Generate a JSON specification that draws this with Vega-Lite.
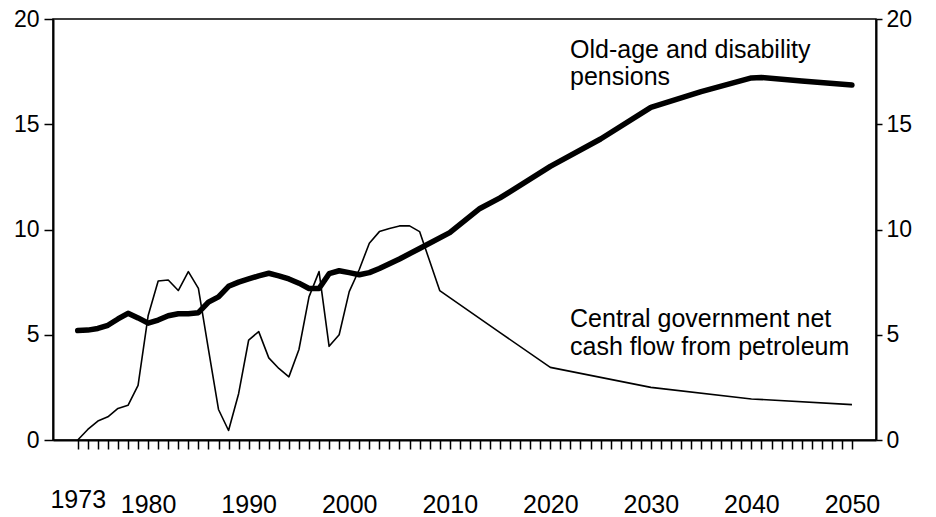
{
  "$schema": "https://vega.github.io/schema/vega-lite/v6.json",
  "width": 823,
  "height": 421,
  "autosize": {"type": "none"},
  "padding": {"left": 53, "top": 19, "right": 60, "bottom": 77},
  "background": "white",
  "config": {
    "view": {"stroke": "black", "strokeWidth": 1.5},
    "font": "Liberation Sans",
    "axis": {"domain": true, "ticks": true, "domainColor": "black", "domainWidth": 2, "tickColor": "black", "labelColor": "black", "labelFont": "Liberation Sans", "grid": false, "title": null}
  },
  "datasets": {
    "series": [
      {"series": "pensions", "year": 1973, "value": 5.2},
      {"series": "pensions", "year": 1974, "value": 5.22},
      {"series": "pensions", "year": 1975, "value": 5.3},
      {"series": "pensions", "year": 1976, "value": 5.45},
      {"series": "pensions", "year": 1977, "value": 5.75},
      {"series": "pensions", "year": 1978, "value": 6.02},
      {"series": "pensions", "year": 1979, "value": 5.8},
      {"series": "pensions", "year": 1980, "value": 5.55},
      {"series": "pensions", "year": 1981, "value": 5.7},
      {"series": "pensions", "year": 1982, "value": 5.9},
      {"series": "pensions", "year": 1983, "value": 6.0},
      {"series": "pensions", "year": 1984, "value": 6.0},
      {"series": "pensions", "year": 1985, "value": 6.05},
      {"series": "pensions", "year": 1986, "value": 6.55},
      {"series": "pensions", "year": 1987, "value": 6.8},
      {"series": "pensions", "year": 1988, "value": 7.3},
      {"series": "pensions", "year": 1989, "value": 7.5},
      {"series": "pensions", "year": 1990, "value": 7.65},
      {"series": "pensions", "year": 1991, "value": 7.8},
      {"series": "pensions", "year": 1992, "value": 7.92},
      {"series": "pensions", "year": 1993, "value": 7.8},
      {"series": "pensions", "year": 1994, "value": 7.65},
      {"series": "pensions", "year": 1995, "value": 7.45},
      {"series": "pensions", "year": 1996, "value": 7.2},
      {"series": "pensions", "year": 1997, "value": 7.2},
      {"series": "pensions", "year": 1998, "value": 7.9},
      {"series": "pensions", "year": 1999, "value": 8.04},
      {"series": "pensions", "year": 2000, "value": 7.95},
      {"series": "pensions", "year": 2001, "value": 7.85},
      {"series": "pensions", "year": 2002, "value": 7.95},
      {"series": "pensions", "year": 2003, "value": 8.15},
      {"series": "pensions", "year": 2005, "value": 8.6},
      {"series": "pensions", "year": 2007, "value": 9.1},
      {"series": "pensions", "year": 2010, "value": 9.85},
      {"series": "pensions", "year": 2013, "value": 11.0},
      {"series": "pensions", "year": 2015, "value": 11.5},
      {"series": "pensions", "year": 2020, "value": 13.0},
      {"series": "pensions", "year": 2025, "value": 14.3},
      {"series": "pensions", "year": 2030, "value": 15.8},
      {"series": "pensions", "year": 2035, "value": 16.55},
      {"series": "pensions", "year": 2040, "value": 17.2},
      {"series": "pensions", "year": 2041, "value": 17.22},
      {"series": "pensions", "year": 2045, "value": 17.05},
      {"series": "pensions", "year": 2050, "value": 16.86},
      {"series": "petroleum", "year": 1973, "value": 0.0},
      {"series": "petroleum", "year": 1974, "value": 0.5},
      {"series": "petroleum", "year": 1975, "value": 0.9},
      {"series": "petroleum", "year": 1976, "value": 1.1},
      {"series": "petroleum", "year": 1977, "value": 1.5},
      {"series": "petroleum", "year": 1978, "value": 1.65},
      {"series": "petroleum", "year": 1979, "value": 2.6},
      {"series": "petroleum", "year": 1980, "value": 5.9},
      {"series": "petroleum", "year": 1981, "value": 7.55},
      {"series": "petroleum", "year": 1982, "value": 7.6},
      {"series": "petroleum", "year": 1983, "value": 7.1},
      {"series": "petroleum", "year": 1984, "value": 8.0},
      {"series": "petroleum", "year": 1985, "value": 7.2},
      {"series": "petroleum", "year": 1986, "value": 4.3},
      {"series": "petroleum", "year": 1987, "value": 1.45},
      {"series": "petroleum", "year": 1988, "value": 0.45},
      {"series": "petroleum", "year": 1989, "value": 2.2},
      {"series": "petroleum", "year": 1990, "value": 4.75},
      {"series": "petroleum", "year": 1991, "value": 5.15},
      {"series": "petroleum", "year": 1992, "value": 3.9},
      {"series": "petroleum", "year": 1993, "value": 3.4},
      {"series": "petroleum", "year": 1994, "value": 3.0},
      {"series": "petroleum", "year": 1995, "value": 4.3},
      {"series": "petroleum", "year": 1996, "value": 6.8},
      {"series": "petroleum", "year": 1997, "value": 8.0},
      {"series": "petroleum", "year": 1998, "value": 4.45},
      {"series": "petroleum", "year": 1999, "value": 5.0},
      {"series": "petroleum", "year": 2000, "value": 7.05},
      {"series": "petroleum", "year": 2001, "value": 8.1},
      {"series": "petroleum", "year": 2002, "value": 9.35},
      {"series": "petroleum", "year": 2003, "value": 9.9},
      {"series": "petroleum", "year": 2004, "value": 10.05},
      {"series": "petroleum", "year": 2005, "value": 10.17},
      {"series": "petroleum", "year": 2006, "value": 10.17},
      {"series": "petroleum", "year": 2007, "value": 9.9},
      {"series": "petroleum", "year": 2008, "value": 8.5},
      {"series": "petroleum", "year": 2009, "value": 7.1},
      {"series": "petroleum", "year": 2015, "value": 5.1},
      {"series": "petroleum", "year": 2020, "value": 3.45},
      {"series": "petroleum", "year": 2030, "value": 2.5},
      {"series": "petroleum", "year": 2040, "value": 1.95},
      {"series": "petroleum", "year": 2050, "value": 1.68}
    ],
    "notes": [
      {"year": 2021.96, "value": 18.15, "label": "Old-age and disability"},
      {"year": 2021.96, "value": 16.87, "label": "pensions"},
      {"year": 2021.96, "value": 5.37, "label": "Central government net"},
      {"year": 2021.96, "value": 4.04, "label": "cash flow from petroleum"}
    ]
  },
  "encoding": {
    "x": {
      "field": "year", "type": "quantitative",
      "scale": {"domain": [1970.54, 2052.39], "nice": false, "zero": false},
      "axis": {
        "orient": "bottom",
        "values": [1973,1974,1975,1976,1977,1978,1979,1980,1981,1982,1983,1984,1985,1986,1987,1988,1989,1990,1991,1992,1993,1994,1995,1996,1997,1998,1999,2000,2001,2002,2003,2004,2005,2006,2007,2008,2009,2010,2011,2012,2013,2014,2015,2016,2017,2018,2019,2020,2021,2022,2023,2024,2025,2026,2027,2028,2029,2030,2031,2032,2033,2034,2035,2036,2037,2038,2039,2040,2041,2042,2043,2044,2045,2046,2047,2048,2049,2050],
        "format": "d",
        "labelExpr": "indexof([1973,1980,1990,2000,2010,2020,2030,2040,2050], datum.value) >= 0 ? datum.label : ''",
        "labelOverlap": false,
        "labelFontSize": 25,
        "labelBaseline": "alphabetic",
        "labelPadding": {"condition": {"test": "datum.value == 1973", "value": 58.5}, "value": 63.5},
        "ticks": true,
        "tickSize": 9,
        "tickWidth": 1.5,
        "tickColor": "black",
        "tickOpacity": 1,
        "labelFlush": false
      }
    }
  },
  "layer": [
    {
      "data": {"name": "series"},
      "transform": [{"filter": "datum.series === 'petroleum'"}],
      "mark": {"type": "line", "color": "black", "strokeWidth": 1.6, "strokeJoin": "round"},
      "encoding": {
        "y": {
          "field": "value", "type": "quantitative",
          "scale": {"domain": [0, 20], "nice": false},
          "axis": {"orient": "left", "values": [0, 5, 10, 15, 20], "ticks": true, "tickSize": 9, "tickWidth": 1.5, "tickColor": "black", "labelPadding": 5, "labelFontSize": 23, "labelFlush": false}
        }
      }
    },
    {
      "data": {"name": "series"},
      "transform": [{"filter": "datum.series === 'pensions'"}],
      "mark": {"type": "line", "color": "black", "strokeWidth": 5.5, "strokeJoin": "round", "strokeCap": "round"},
      "encoding": {
        "y": {
          "field": "value", "type": "quantitative",
          "scale": {"domain": [0, 20], "nice": false},
          "axis": {"orient": "right", "values": [0, 5, 10, 15, 20], "ticks": true, "tickSize": 6, "tickWidth": 1.5, "tickColor": "black", "labelPadding": 4, "labelFontSize": 23, "labelFlush": false}
        }
      }
    },
    {
      "data": {"name": "notes"},
      "mark": {"type": "text", "align": "left", "baseline": "alphabetic", "fontSize": 25, "font": "Liberation Sans", "color": "black"},
      "encoding": {
        "y": {"field": "value", "type": "quantitative", "scale": {"domain": [0, 20], "nice": false}, "axis": null},
        "text": {"field": "label", "type": "nominal"}
      }
    }
  ],
  "resolve": {"axis": {"y": "independent"}}
}
